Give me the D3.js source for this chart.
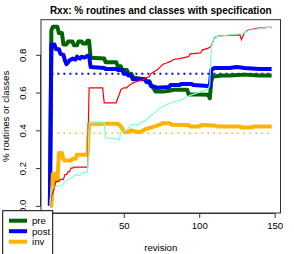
<!DOCTYPE html>
<html>
<head>
<meta charset="utf-8">
<script src="https://cdn.jsdelivr.net/npm/d3@7"></script>
<style>
  body { margin: 0; background: #fff; }
  text { font-family: "Liberation Sans", Arial, sans-serif; }
</style>
</head>
<body>
<svg id="chart" width="294" height="254"></svg>
<script>
// [revision, share] pairs
const pre = [[1,0],[2,0.93],[3,0.948],[6,0.948],[7,0.915],[9,0.915],[10,0.855],[12,0.855],[13,0.87],[16,0.87],
  [17,0.85],[19,0.85],[20,0.87],[22,0.87],[23,0.86],[25,0.86],[26,0.875],[27,0.875],[28,0.785],[37,0.78],
  [38,0.76],[45,0.76],[46,0.74],[48,0.74],[49,0.72],[52,0.72],[53,0.70],[55,0.70],[56,0.68],[60,0.675],
  [64,0.67],[65,0.66],[67,0.66],[68,0.64],[70,0.62],[71,0.605],[76,0.605],[80,0.61],[83,0.615],[92,0.615],
  [93,0.59],[100,0.59],[106,0.588],[107,0.57],[108,0.66],[109,0.685],[115,0.69],[120,0.69],[130,0.695],
  [140,0.69],[148,0.69]];

const post = [[1,0],[2,0.855],[4,0.855],[5,0.83],[7,0.83],[8,0.805],[10,0.80],[11,0.77],[12,0.75],[14,0.77],
  [16,0.78],[18,0.775],[19,0.79],[21,0.78],[22,0.79],[24,0.785],[26,0.795],[27,0.795],[28,0.735],[37,0.73],
  [38,0.725],[45,0.725],[46,0.72],[49,0.72],[50,0.70],[52,0.70],[53,0.69],[55,0.69],[56,0.67],[64,0.67],
  [65,0.655],[67,0.655],[68,0.635],[71,0.63],[72,0.625],[80,0.63],[81,0.64],[87,0.64],[88,0.645],[95,0.645],
  [96,0.64],[106,0.635],[107,0.63],[108,0.72],[110,0.73],[120,0.73],[125,0.735],[130,0.73],[140,0.725],[148,0.725]];

const inv = [[1,0],[2,0],[3,0.17],[4,0.17],[5,0.13],[6,0.14],[7,0.28],[9,0.28],[10,0.245],[11,0.24],[15,0.24],
  [16,0.25],[18,0.25],[19,0.27],[26,0.27],[27,0.435],[46,0.435],[47,0.43],[49,0.41],[50,0.395],[52,0.39],
  [55,0.40],[57,0.395],[60,0.39],[62,0.395],[64,0.405],[66,0.41],[70,0.42],[74,0.43],[76,0.438],[80,0.438],
  [82,0.43],[93,0.428],[94,0.42],[100,0.42],[101,0.428],[110,0.426],[112,0.42],[127,0.42],[128,0.415],
  [134,0.415],[136,0.42],[148,0.42]];

const routines = [[1,0],[2,0.05],[3,0.07],[4,0.095],[5,0.13],[7,0.13],[8,0.14],[10,0.14],[11,0.165],[12,0.165],
  [13,0.18],[14,0.18],[15,0.2],[16,0.2],[17,0.205],[26,0.205],[27,0.625],[36,0.625],[37,0.545],[45,0.545],
  [46,0.57],[47,0.59],[48,0.615],[50,0.625],[52,0.625],[53,0.635],[55,0.645],[56,0.65],[59,0.66],[62,0.665],
  [64,0.675],[67,0.685],[68,0.70],[70,0.71],[72,0.72],[74,0.735],[76,0.75],[78,0.755],[81,0.765],[83,0.775],
  [87,0.78],[93,0.79],[94,0.805],[101,0.81],[102,0.825],[106,0.835],[108,0.845],[110,0.89],[113,0.9],
  [127,0.905],[128,0.88],[130,0.915],[132,0.93],[138,0.94],[145,0.945],[148,0.945]];

const classes = [[1,0],[2,0.09],[4,0.1],[9,0.11],[11,0.125],[13,0.14],[16,0.15],[18,0.165],[21,0.16],[22,0.175],
  [26,0.18],[27,0.44],[37,0.44],[38,0.36],[46,0.355],[47,0.345],[48,0.39],[52,0.40],[55,0.43],[60,0.43],
  [61,0.44],[64,0.45],[66,0.465],[70,0.49],[74,0.52],[81,0.545],[88,0.56],[94,0.585],[101,0.605],[106,0.62],
  [107,0.64],[108,0.84],[110,0.895],[120,0.905],[130,0.915],[133,0.93],[141,0.94],[148,0.947]];

// average levels (dotted)
const postAvg = 0.70;
const invAvg = 0.385;

const xTicks = [50, 100, 150];   // the 0 tick sits under the legend
const yTicks = [0, 0.2, 0.4, 0.6, 0.8];
const legendNames = ["pre", "post", "inv"];
const legendColors = ["#006400", "#0000ff", "#ffb300"];

const svg = d3.select("#chart");
const mLeft = 41, mRight = 280.5, mTop = 19.7, mBottom = 213;

// R style 4% padding
const all = pre.concat(post, inv, routines, classes);
const xe = d3.extent(all, d => d[0]);
const ye = d3.extent(all, d => d[1]);
const padX = (xe[1] - xe[0]) * 0.04, padY = (ye[1] - ye[0]) * 0.04;

const x = d3.scaleLinear().domain([xe[0] - padX, xe[1] + padX]).range([mLeft, mRight]);
const y = d3.scaleLinear().domain([ye[0] - padY, ye[1] + padY]).range([mBottom, mTop]);

const line = d3.line().x(d => x(d[0])).y(d => y(d[1]));

// dotted averages
svg.append("line")
  .attr("x1", x(2)).attr("x2", x(148)).attr("y1", y(postAvg)).attr("y2", y(postAvg))
  .attr("stroke", "#0000ff").attr("stroke-width", 2).attr("stroke-dasharray", "2,4");
svg.append("line")
  .attr("x1", x(2)).attr("x2", x(148)).attr("y1", y(invAvg)).attr("y2", y(invAvg))
  .attr("stroke", "#ffb300").attr("stroke-width", 1.5).attr("stroke-dasharray", "1.5,4.5");

// thick series
[[pre, "#006400"], [post, "#0000ff"], [inv, "#ffb300"]].forEach(([data, col]) => {
  svg.append("path").datum(data).attr("d", line)
    .attr("fill", "none").attr("stroke", col).attr("stroke-width", 4)
    .attr("stroke-linejoin", "round");
});

// thin series
[[routines, "#ff0000"], [classes, "#7fffd4"]].forEach(([data, col]) => {
  svg.append("path").datum(data).attr("d", line)
    .attr("fill", "none").attr("stroke", col).attr("stroke-width", 1.2);
});

// frame
svg.append("rect")
  .attr("x", mLeft).attr("y", mTop).attr("width", mRight - mLeft).attr("height", mBottom - mTop)
  .attr("fill", "none").attr("stroke", "#333").attr("stroke-width", 1);

// axes
const xAxis = svg.append("g").attr("transform", `translate(0,${mBottom})`)
  .call(d3.axisBottom(x).tickValues(xTicks).tickSize(5).tickPadding(4));
xAxis.selectAll("text").attr("font-size", 9.6).attr("fill", "#000")
  .attr("font-family", "Liberation Sans, Arial, sans-serif");

const yAxis = svg.append("g").attr("transform", `translate(${mLeft},0)`)
  .call(d3.axisLeft(y).tickValues(yTicks).tickSize(5).tickFormat(d3.format(".1f")));
yAxis.selectAll("text")
  .attr("font-size", 9.6).attr("fill", "#000")
  .attr("font-family", "Liberation Sans, Arial, sans-serif")
  .attr("text-anchor", "middle").attr("dy", 0)
  .attr("transform", "translate(-15.5,0) rotate(-90)")
  .attr("x", 0).attr("y", 0);
[xAxis, yAxis].forEach(a => {
  a.select(".domain").attr("stroke", "#333");
  a.selectAll(".tick line").attr("stroke", "#333");
});
xAxis.select(".domain").attr("d", `M${x(0)},0.5H${x(150)}`);
yAxis.select(".domain").attr("d", `M-0.5,${y(0)}V${y(0.8)}`);

// titles
svg.append("text").attr("x", (mLeft + mRight) / 2).attr("y", 13.5)
  .attr("text-anchor", "middle").attr("font-size", 10).attr("font-weight", "bold")
  .text("Rxx: % routines and classes with specification");
svg.append("text").attr("x", (mLeft + mRight) / 2).attr("y", 251)
  .attr("text-anchor", "middle").attr("font-size", 9.6).text("revision");
svg.append("text").attr("transform", `translate(9,${(mTop + mBottom) / 2}) rotate(-90)`)
  .attr("text-anchor", "middle").attr("font-size", 9.6).text("% routines or classes");

// legend
const lg = svg.append("g");
lg.append("rect").attr("x", 2.7).attr("y", 210.7).attr("width", 50).attr("height", 60)
  .attr("fill", "#fff").attr("stroke", "#000").attr("stroke-width", 1);
legendNames.forEach((n, i) => {
  const yy = 220.7 + i * 10.5;
  lg.append("line").attr("x1", 9).attr("x2", 27).attr("y1", yy).attr("y2", yy)
    .attr("stroke", legendColors[i]).attr("stroke-width", 4);
  lg.append("text").attr("x", 32).attr("y", yy + 3.5).attr("font-size", 9.6).text(n);
});
</script>
</body>
</html>
